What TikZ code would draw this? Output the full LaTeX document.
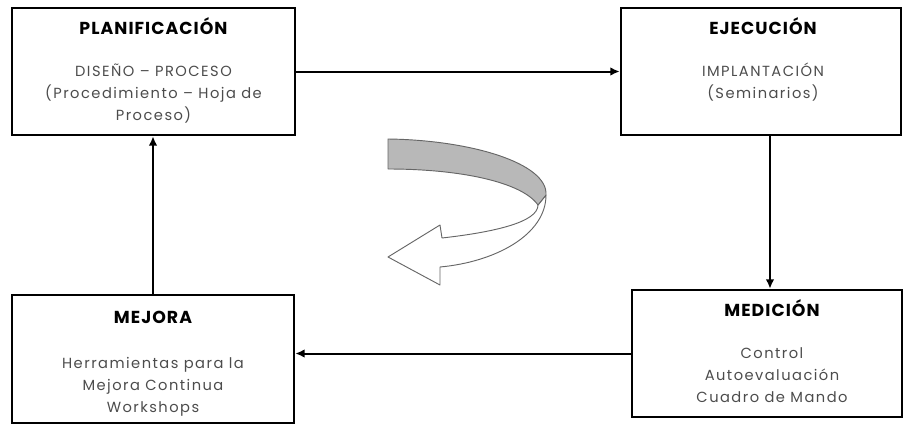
\documentclass[tikz,border=0pt]{standalone}
\usepackage{fontspec}
\setmainfont{Poppins}
\newfontfamily\cuerpo[LetterSpace=10]{Poppins}
\newfontfamily\cabeza[LetterSpace=6]{Poppins}
\usetikzlibrary{positioning,arrows.meta}

\tikzset{
  box/.style={draw, line width=2pt, inner sep=0pt},
  titulo/.style={font=\cabeza\bfseries\fontsize{13}{15}\selectfont, anchor=base, inner sep=0pt},
  texto/.style={font=\cuerpo\fontsize{11}{16.5}\selectfont, text=black!70, align=center, anchor=north, inner sep=0pt},
  flecha/.style={line width=1.5pt, -{Latex[length=7pt,width=6.5pt]}},
  cinta/.style={draw=black!60, line width=0.7pt, line join=round}
}

\begin{document}
\begin{tikzpicture}[x=0.75pt,y=-0.75pt]
		\useasboundingbox (0,0) rectangle (904,425);
		% cajas
		\node[box, minimum width=212.25pt, minimum height=95.25pt] (0) at (153.5, 71.5) {};
		\node[box, minimum width=210pt, minimum height=95.25pt] (1) at (761, 71.5) {};
		\node[box, minimum width=202.5pt, minimum height=95.25pt] (2) at (767, 353.5) {};
		\node[box, minimum width=211.5pt, minimum height=96pt] (3) at (153, 359) {};
		% textos
		\node[titulo] (0t) at (153.5, 34) {PLANIFICACIÓN};
		\node[texto] (0b) at (153.5, 64) {DISEÑO – PROCESO\\(Procedimiento – Hoja de\\Proceso)};
		\node[titulo] (1t) at (763, 34) {EJECUCIÓN};
		\node[texto] (1b) at (763, 63) {IMPLANTACIÓN\\(Seminarios)};
		\node[titulo] (2t) at (772, 316) {MEDICIÓN};
		\node[texto] (2b) at (772, 347) {Control\\Autoevaluación\\Cuadro de Mando};
		\node[titulo] (3t) at (153, 323) {MEJORA};
		\node[texto] (3b) at (153, 357) {Herramientas para la\\Mejora Continua\\Workshops};
		% flechas
		\draw[flecha] (0) -- (1);
		\draw[flecha] ([xshift=6.75pt]1.south) -- ([xshift=6.75pt]1.south |- 2.north);
		\draw[flecha] (2.west) -- (2.west -| 3.east);
		\draw[flecha] (3.north) -- (3.north |- 0.south);
		% flecha circular
		\draw[cinta, fill=white] (546,195) .. controls (546,235) and (495,262) .. (440,267)
			-- (440,285) -- (388,257) -- (440,225) -- (442,238)
			.. controls (495,232) and (538,222) .. (538,205) -- cycle;
		\draw[cinta, fill=black!28] (388,139) .. controls (470,140) and (548,163) .. (546,195)
			-- (538,205) .. controls (522,182) and (460,169) .. (388,169) -- cycle;
\end{tikzpicture}
\end{document}
